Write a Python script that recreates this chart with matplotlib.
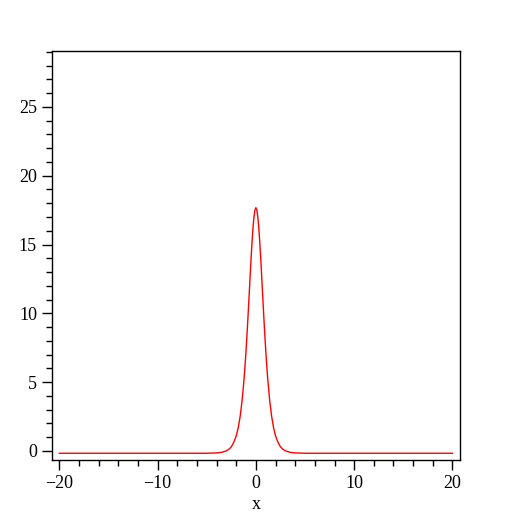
import matplotlib
matplotlib.use('Agg')
import matplotlib.pyplot as plt
from matplotlib.ticker import MultipleLocator
import numpy as np

# values (symmetric peak around x = 0)
x_right = [0.0, 0.1, 0.2, 0.3, 0.4, 0.5, 0.6, 0.7, 0.8, 0.9, 1.0, 1.1, 1.2, 1.4, 1.6, 1.8,
	2.0, 2.25, 2.5, 2.75, 3.0, 3.5, 4.0, 5.0, 6.0, 10.0, 20.0]
y_right = [17.68, 17.50, 16.98, 16.17, 15.10, 13.87, 12.53, 11.16, 9.81, 8.52, 7.33, 6.24, 5.27, 3.69, 2.52, 1.68,
	1.09, 0.63, 0.30, 0.12, 0.01, -0.105, -0.146, -0.167, -0.17, -0.17, -0.17]

x_vals = np.concatenate([-np.array(x_right[:0:-1]), x_right])
y_vals = np.concatenate([np.array(y_right[:0:-1]), y_right])

plt.rcParams['font.family'] = ['Liberation Serif', 'DejaVu Serif']

fig = plt.figure(figsize=(5.12, 5.12), dpi=100)
ax = fig.add_axes([0.1006, 0.101, 0.7984, 0.799])
ax.plot(x_vals, y_vals, color='red', linewidth=1.0)

ax.set_xlim(-20.8, 20.8)
ax.set_ylim(-0.68, 29.05)
ax.xaxis.set_major_locator(MultipleLocator(10))
ax.xaxis.set_minor_locator(MultipleLocator(2))
ax.yaxis.set_major_locator(MultipleLocator(5))
ax.yaxis.set_minor_locator(MultipleLocator(1))
ax.tick_params(which='major', length=7, width=1, labelsize=13, direction='out')
ax.tick_params(which='minor', length=4, width=1, direction='out')
ax.tick_params(top=False, right=False)
ax.xaxis.set_major_formatter(plt.FuncFormatter(lambda v, p: f'{v:.0f}'.replace('-', '\u2212')))
ax.yaxis.set_major_formatter(plt.FuncFormatter(lambda v, p: f'{v:.0f}'))
for s in ax.spines.values():
	s.set_linewidth(1)
ax.set_xlabel('x', fontsize=13, labelpad=3)

plt.savefig('out.png', dpi=100)
